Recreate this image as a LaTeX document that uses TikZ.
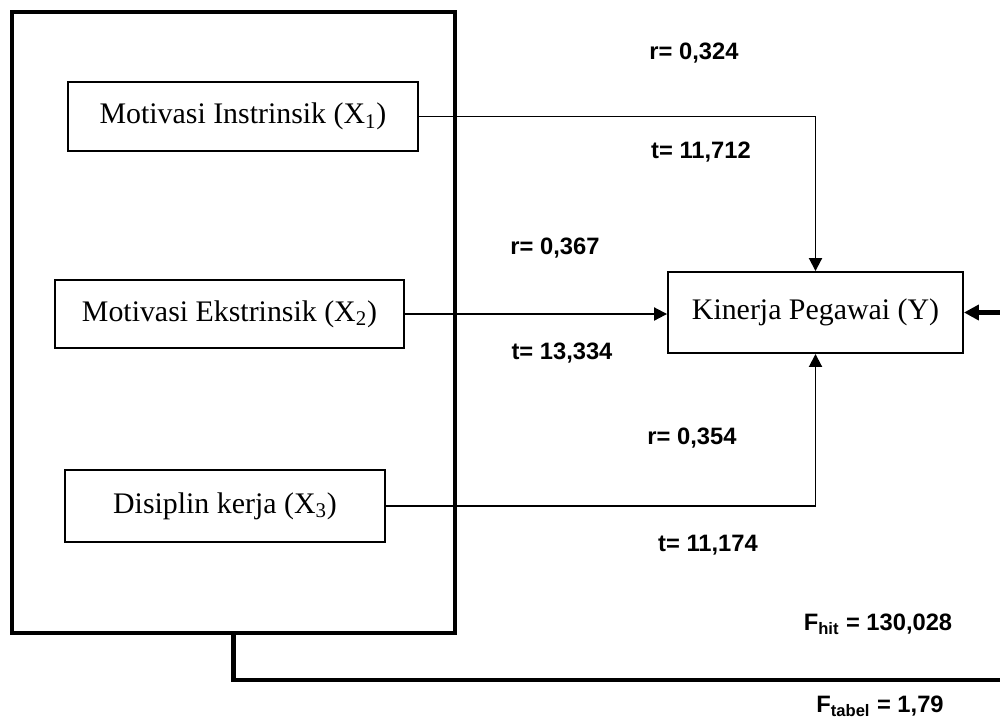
\documentclass[tikz,border=0pt]{standalone}
\usepackage{fontspec}
\setmainfont{Liberation Serif}
\newfontfamily\statfont{Liberation Sans}
\usetikzlibrary{arrows.meta,positioning}

\tikzset{
  varbox/.style={draw, line width=1.1pt, inner sep=0pt, font=\fontsize{17}{20}\selectfont},
  stat/.style={font=\statfont\bfseries\fontsize{13.5}{16}\selectfont, inner sep=0pt},
  link/.style={line width=1.1pt, -{Triangle[length=2.6mm,width=2.6mm]}},
  feedback/.style={line width=2.5pt, -{Triangle[length=3mm,width=3mm]}},
}

\begin{document}
\begin{tikzpicture}[x=0.02cm,y=-0.02cm]
    \useasboundingbox (0,0) rectangle (1000,718);
    \clip (0,0) rectangle (1000,718);

    % independent variables, grouped
    \node[draw, line width=2.5pt, minimum width=8.86cm, minimum height=12.42cm] (grp) at (233.5,322.5) {};
    \node[varbox, minimum width=7cm, minimum height=1.38cm] (x1) at (243,116.5) {Motivasi Instrinsik (X\textsubscript{1})};
    \node[varbox, minimum width=6.98cm, minimum height=1.36cm] (x2) at (229.5,314) {Motivasi Ekstrinsik (X\textsubscript{2})};
    \node[varbox, minimum width=6.4cm, minimum height=1.44cm] (x3) at (225,506) {Disiplin kerja (X\textsubscript{3})};

    % dependent variable
    \node[varbox, minimum width=5.9cm, minimum height=1.62cm] (y) at (815.5,312.5) {Kinerja Pegawai (Y)};

    \draw[link] (x1.east) -| (y.north);
    \draw[link] (x2.east) -- (x2.east -| y.west);
    \draw[link] (x3.east) -| (y.south);

    \coordinate (fbend) at (1030,680);
    \draw[feedback] (grp.south) |- (fbend) |- (y.east);

    \foreach \name/\px/\py/\txt in {r1/694/53/{r= 0,324}, t1/701/152/{t= 11,712},
                                    r2/555/248/{r= 0,367}, t2/562/353/{t= 13,334},
                                    r3/692/438/{r= 0,354}, t3/708/545/{t= 11,174}}
    {
      \node[stat] (\name) at (\px,\py) {\txt};
    }
    \node[stat] (fhit) at (878,624) {F\textsubscript{hit} = 130,028};
    \node[stat] (ftabel) at (880,706) {F\textsubscript{tabel} = 1,79};
\end{tikzpicture}
\end{document}
